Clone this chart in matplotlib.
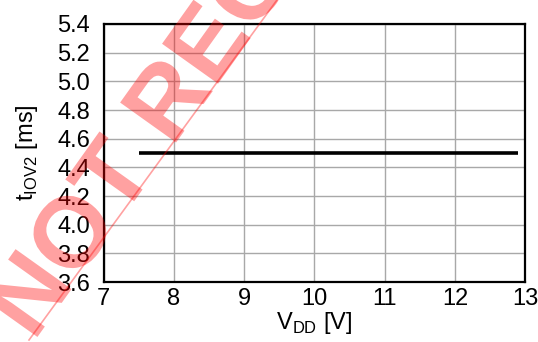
import numpy as np
import matplotlib
matplotlib.use('Agg')
import matplotlib.pyplot as plt
from matplotlib.lines import Line2D
from matplotlib.textpath import TextPath, TextToPath
from matplotlib.patches import PathPatch
from matplotlib.font_manager import FontProperties
from matplotlib.transforms import Affine2D

plt.rcParams['font.family'] = ['Liberation Sans', 'DejaVu Sans']
plt.rcParams['mathtext.fontset'] = 'custom'
plt.rcParams['mathtext.rm'] = 'Liberation Sans'

# data
vdd = [7.5, 12.9]
t_iov2 = [4.5, 4.5]

x_ticks = [7, 8, 9, 10, 11, 12, 13]
y_ticks = [3.6, 3.8, 4.0, 4.2, 4.4, 4.6, 4.8, 5.0, 5.2, 5.4]
y_ticklabels = ['%.1f' % v for v in y_ticks]

W, H = 538, 342
fig = plt.figure(figsize=(W / 100, H / 100), dpi=100)
ax = fig.add_axes([0.193, 0.175, 0.783, 0.755])

ax.plot(vdd, t_iov2, color='black', lw=2.6, solid_capstyle='butt', zorder=3)

ax.set_xlim(7, 13)
ax.set_ylim(3.6, 5.4)
ax.set_xticks(x_ticks)
ax.set_yticks(y_ticks)
ax.set_yticklabels(y_ticklabels)
ax.grid(True, color='#a8a8a8', lw=1.0)
ax.set_axisbelow(True)
ax.tick_params(length=0, labelsize=17)
ax.tick_params(axis='y', pad=10)
ax.tick_params(axis='x', pad=4)
for s in ax.spines.values():
    s.set_linewidth(1.6)

ax.set_xlabel(r'V$_\mathregular{DD}$ [V]', fontsize=17, labelpad=0)
ax.set_ylabel(r't$_\mathregular{IOV2}$ [ms]', fontsize=17, labelpad=12)

# "NOT RECOMMENDED" watermark, placed in pixels so the "O" sits round the 4.0 label
wm_text = 'NOT RECOMMENDED'
em = 100.0          # font size in pixels
angle = 54.5
o_center = (70, H - 232)   # where the O should land (display pixels)

fp = FontProperties(family='Liberation Sans', weight='bold', size=em)
w_n, _, _ = TextToPath().get_text_width_height_descent('N', fp, ismath=False)
o_ext = TextPath((w_n, 0), 'O', size=em, prop=fp).get_extents()
cx, cy = (o_ext.x0 + o_ext.x1) / 2, (o_ext.y0 + o_ext.y1) / 2

wm_path = TextPath((0, 0), wm_text, size=em, prop=fp)
wm_tr = Affine2D().translate(-cx, -cy).rotate_deg(angle).translate(*o_center)
fig.add_artist(PathPatch(wm_path, transform=wm_tr, facecolor='red',
                         edgecolor='none', alpha=0.37, zorder=10))
fig.add_artist(Line2D([29 / W, 277 / W], [1 - 340 / H, 1.0],
                      transform=fig.transFigure, color='red', alpha=0.37,
                      lw=1.2, zorder=10))

fig.savefig('out.png', dpi=100)
